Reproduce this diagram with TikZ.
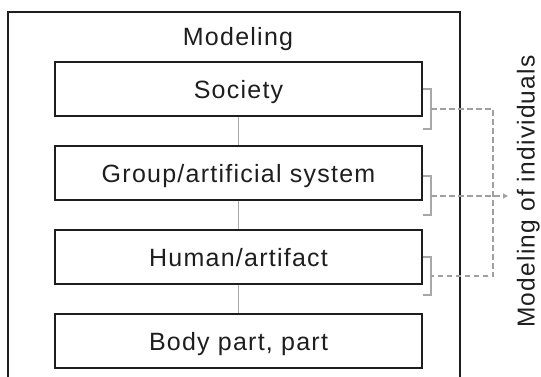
\documentclass[tikz,border=0pt]{standalone}
\usepackage{fontspec}
\setmainfont{Liberation Sans}[LetterSpace=5]
\usetikzlibrary{arrows.meta}
\definecolor{ink}{HTML}{1E1E1E}
\definecolor{link}{HTML}{A8A8A8}
\definecolor{dash}{HTML}{A0A0A0}
\tikzset{
  layerbox/.style={draw=ink, line width=1.2pt, minimum width=367pt, minimum height=54pt, inner sep=0pt, text height=18pt, text depth=0pt, font=\fontsize{25}{30}\selectfont, text=ink},
  glink/.style={draw=link, line width=1.1pt},
  gbracket/.style={draw=link, line width=1.1pt},
  gdash/.style={draw=dash, line width=1.2pt, dash pattern=on 5.5pt off 3.5pt},
}
\begin{document}
\begin{tikzpicture}[x=1pt,y=-1pt]
\useasboundingbox (0,0) rectangle (541,376);
% outer frame
\draw[draw=ink, line width=1.2pt] (8,380) -- (8,12) -- (460,12) -- (460,380);
\node[anchor=base, font=\fontsize{25}{30}\selectfont, text=ink] (title) at (238,45.7) {Modeling};
% layer boxes
\node[layerbox] (soc) at (238.5,89) {Society};
\node[layerbox] (grp) at (238.5,173) {Group/artificial system};
\node[layerbox] (hum) at (238.5,257) {Human/artifact};
\node[layerbox] (bod) at (238.5,341) {Body part, part};
% vertical links
\draw[glink] (soc.south) -- (grp.north);
\draw[glink] (grp.south) -- (hum.north);
\draw[glink] (hum.south) -- (bod.north);
% brackets
\draw[gbracket] (423,89) -- (431,89) -- (431,129) -- (423,129);
\draw[gbracket] (423,176) -- (431,176) -- (431,215) -- (423,215);
\draw[gbracket] (423,257) -- (431,257) -- (431,295) -- (423,295);
\coordinate (b1) at (431,109);
\coordinate (b2) at (431,196);
\coordinate (b3) at (431,276);
\coordinate (j1) at (493,109);
\coordinate (j3) at (493,276);
\coordinate (tip) at (508,196);
% dashed connectors
\draw[gdash] (b1) -- (j1) -- (j3) -- (b3);
\draw[gdash, -{Triangle[length=5pt,width=5pt]}] (b2) -- (tip);
% side label
\node[rotate=90, anchor=base, font=\fontsize{24.5}{29}\selectfont, text=ink, inner sep=0pt] (side) at (534.5,191.5) {Modeling of individuals};
\end{tikzpicture}
\end{document}
